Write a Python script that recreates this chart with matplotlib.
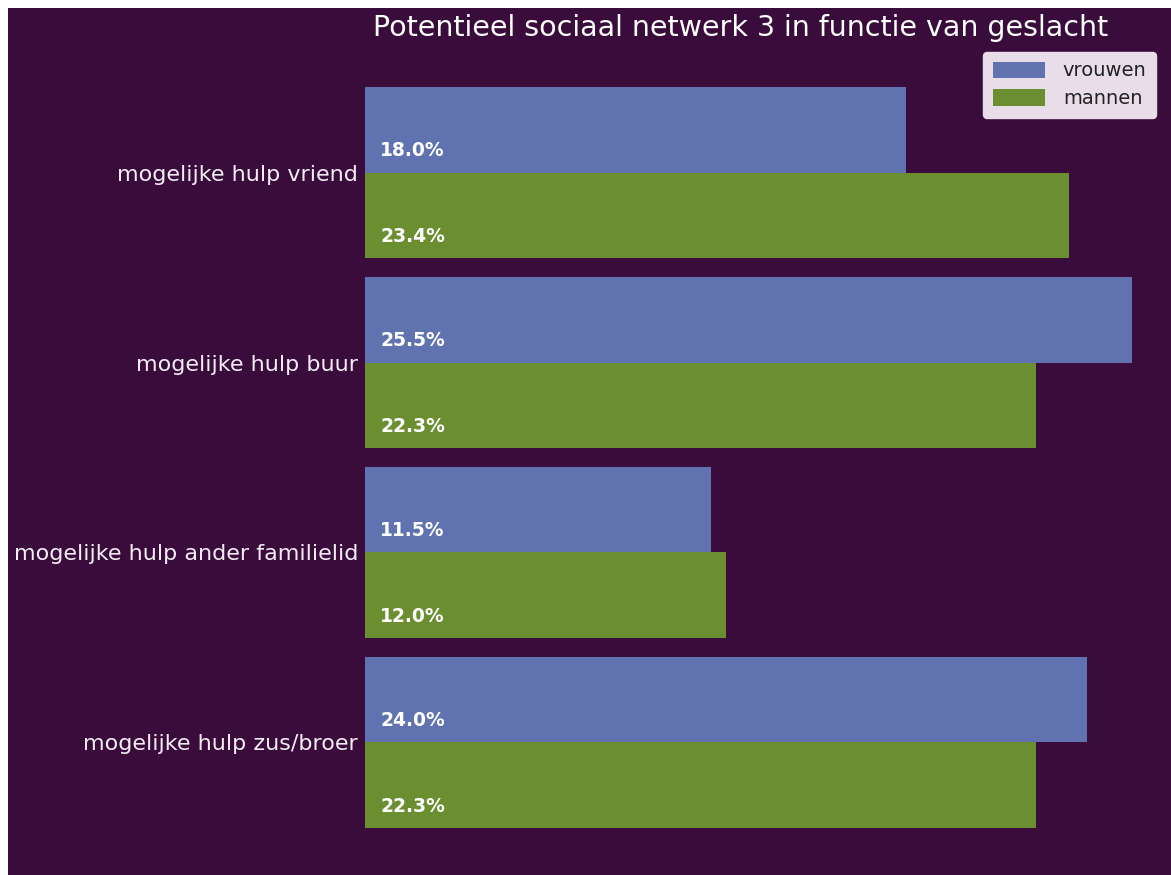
import matplotlib
matplotlib.use("Agg")
import matplotlib.pyplot as plt
import numpy as np
from matplotlib.patches import Rectangle

categories = ["mogelijke hulp vriend", "mogelijke hulp buur",
              "mogelijke hulp ander familielid", "mogelijke hulp zus/broer"]
vrouwen = [18.0, 25.5, 11.5, 24.0]
mannen = [23.4, 22.3, 12.0, 22.3]
series_names = ["vrouwen", "mannen"]
title = "Potentieel sociaal netwerk 3 in functie van geslacht"

W, H = 1171, 875
bg = "#3a0c3c"
blue = "#6073b0"
green = "#6a8e30"

fig = plt.figure(figsize=(W / 100, H / 100), dpi=100)
fig.patch.set_facecolor(bg)
# white page margin strips (top and left)
fig.patches.append(Rectangle((0, 1 - 8 / H), 1, 8 / H, transform=fig.transFigure,
                             facecolor="white", edgecolor="none", zorder=5))
fig.patches.append(Rectangle((0, 0), 8 / W, 1, transform=fig.transFigure,
                             facecolor="white", edgecolor="none", zorder=5))

ax = fig.add_axes([365 / W, 10 / H, (1162 - 365) / W, 815 / H])
ax.set_facecolor(bg)
for s in ax.spines.values():
    s.set_visible(False)

y = np.arange(len(categories))
h = 0.45
b1 = ax.barh(y - h / 2, vrouwen, height=h, color=blue, label=series_names[0])
b2 = ax.barh(y + h / 2, mannen, height=h, color=green, label=series_names[1])

for bars, vals in ((b1, vrouwen), (b2, mannen)):
    for bar, v in zip(bars, vals):
        yc = bar.get_y() + bar.get_height() / 2
        ax.text(0.5, yc + 0.11, f"{v:.1f}%", color="white", fontsize=13.5,
                fontweight="bold", va="center", ha="left")

ax.set_xlim(0, 26.5)
ax.set_ylim(3.645, -0.645)
ax.set_yticks(y)
ax.set_yticklabels(categories, fontsize=16, color="#f4eef4")
ax.tick_params(axis="y", length=0, pad=5)
ax.xaxis.set_visible(False)

leg = ax.legend(loc="upper right", fontsize=14, facecolor="#e8dde9", edgecolor="#e8dde9",
                framealpha=1, handlelength=2.7, handleheight=0.9, borderpad=0.5,
                labelspacing=0.45, handletextpad=0.9,
                bbox_to_anchor=(1.0 + 4 / 797, 1.0 + 8 / 815))
for t in leg.get_texts():
    t.set_color("#222222")

fig.text(741 / W, 1 - 28 / H, title, ha="center", va="center", fontsize=20.5, color="white")

fig.savefig("out.png", dpi=100, facecolor=fig.get_facecolor())
